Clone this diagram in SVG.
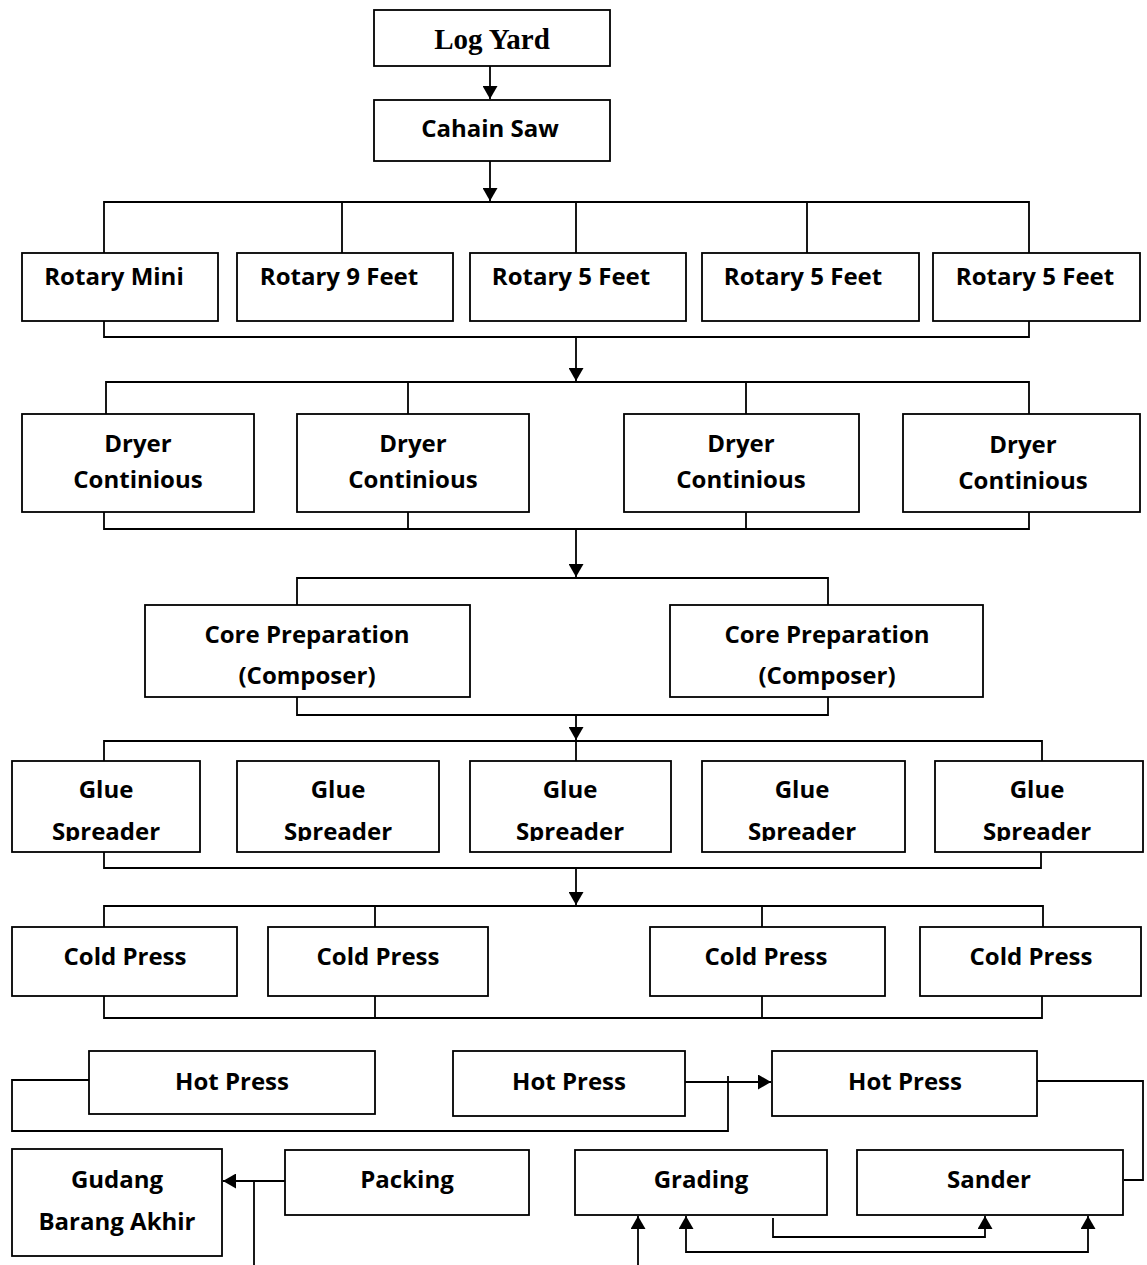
<svg xmlns="http://www.w3.org/2000/svg" width="1147" height="1265" viewBox="0 0 1147 1265">
<style>
.b{fill:#fff;stroke:#000;stroke-width:1.8}
.t{font-family:"Open Sans","Liberation Sans",sans-serif;font-weight:bold;font-size:24px;text-anchor:middle;fill:#000}
.s{font-family:"Liberation Serif",serif;font-weight:bold;font-size:29px;text-anchor:middle;fill:#000}
.c{fill:none;stroke:#000;stroke-width:1.8}
.a{marker-end:url(#ah)}
.a2{marker-start:url(#ah);marker-end:url(#ah)}
</style>
<defs>
<marker id="ah" markerWidth="13" markerHeight="15" refX="13" refY="7.5" orient="auto-start-reverse" markerUnits="userSpaceOnUse">
<path d="M0,0 L13,7.5 L0,15 Z" fill="#000"/>
</marker>
<clipPath id="gc"><rect x="0" y="700" width="1147" height="141"/></clipPath>
</defs>
<g id="connectors">
<path class="c a" d="M490,66 V99"/>
<path class="c a" d="M490,161 V201"/>
<path class="c" d="M104,253 V202 H1029 V253 M342,202 V253 M576,202 V253 M807,202 V253"/>
<path class="c" d="M104,321 V337 H1029 V321"/>
<path class="c a" d="M576,337 V381"/>
<path class="c" d="M106,414 V382 H1029 V414 M408,382 V414 M746,382 V414"/>
<path class="c" d="M104,512 V529 H1029 V512 M408,512 V529 M746,512 V529"/>
<path class="c a" d="M576,529 V577"/>
<path class="c" d="M297,605 V578 H828 V605"/>
<path class="c" d="M297,697 V715 H828 V697"/>
<path class="c a" d="M576,715 V740"/>
<path class="c" d="M104,761 V741 H1042 V761 M576,741 V761"/>
<path class="c" d="M104,852 V868 H1041 V852"/>
<path class="c a" d="M576,868 V905"/>
<path class="c" d="M104,927 V906 H1043 V927 M375,906 V927 M762,906 V927"/>
<path class="c" d="M104,996 V1018 H1042 V996 M375,996 V1018 M762,996 V1018"/>
<path class="c" d="M89,1080 H12 V1131 H728 V1076"/>
<path class="c a" d="M685,1082 H771"/>
<path class="c" d="M1037,1081 H1143 V1180 H1124"/>
<path class="c a" d="M285,1181 H223"/>
<path class="c" d="M254,1181 V1265"/>
<path class="c a" d="M638,1265 V1216"/>
<path class="c a2" d="M686,1216 V1252 H1088 V1216"/>
<path class="c a" d="M773,1218 V1237 H985 V1216"/>
</g>
<g id="n-logyard"><rect class="b" x="374" y="10" width="236" height="56"/><text class="s" x="492" y="49">Log Yard</text></g>
<g id="n-chainsaw"><rect class="b" x="374" y="100" width="236" height="61"/><text class="t" x="490" y="137">Cahain Saw</text></g>
<g id="n-rot1"><rect class="b" x="22" y="253" width="196" height="68"/><text class="t" x="114" y="285">Rotary Mini</text></g>
<g id="n-rot2"><rect class="b" x="237" y="253" width="216" height="68"/><text class="t" x="339" y="285">Rotary 9 Feet</text></g>
<g id="n-rot3"><rect class="b" x="470" y="253" width="216" height="68"/><text class="t" x="571" y="285">Rotary 5 Feet</text></g>
<g id="n-rot4"><rect class="b" x="702" y="253" width="217" height="68"/><text class="t" x="803" y="285">Rotary 5 Feet</text></g>
<g id="n-rot5"><rect class="b" x="933" y="253" width="207" height="68"/><text class="t" x="1035" y="285">Rotary 5 Feet</text></g>
<g id="n-dry1"><rect class="b" x="22" y="414" width="232" height="98"/><text class="t" x="138" y="452">Dryer</text><text class="t" x="138" y="488">Continious</text></g>
<g id="n-dry2"><rect class="b" x="297" y="414" width="232" height="98"/><text class="t" x="413" y="452">Dryer</text><text class="t" x="413" y="488">Continious</text></g>
<g id="n-dry3"><rect class="b" x="624" y="414" width="235" height="98"/><text class="t" x="741" y="452">Dryer</text><text class="t" x="741" y="488">Continious</text></g>
<g id="n-dry4"><rect class="b" x="903" y="414" width="237" height="98"/><text class="t" x="1023" y="453">Dryer</text><text class="t" x="1023" y="489">Continious</text></g>
<g id="n-core1"><rect class="b" x="145" y="605" width="325" height="92"/><text class="t" x="307" y="643">Core Preparation</text><text class="t" x="307" y="684">(Composer)</text></g>
<g id="n-core2"><rect class="b" x="670" y="605" width="313" height="92"/><text class="t" x="827" y="643">Core Preparation</text><text class="t" x="827" y="684">(Composer)</text></g>
<g id="n-glue1"><rect class="b" x="12" y="761" width="188" height="91"/><text class="t" x="106" y="798">Glue</text><text class="t" x="106" y="840" clip-path="url(#gc)">Spreader</text></g>
<g id="n-glue2"><rect class="b" x="237" y="761" width="202" height="91"/><text class="t" x="338" y="798">Glue</text><text class="t" x="338" y="840" clip-path="url(#gc)">Spreader</text></g>
<g id="n-glue3"><rect class="b" x="470" y="761" width="201" height="91"/><text class="t" x="570" y="798">Glue</text><text class="t" x="570" y="840" clip-path="url(#gc)">Spreader</text></g>
<g id="n-glue4"><rect class="b" x="702" y="761" width="203" height="91"/><text class="t" x="802" y="798">Glue</text><text class="t" x="802" y="840" clip-path="url(#gc)">Spreader</text></g>
<g id="n-glue5"><rect class="b" x="935" y="761" width="208" height="91"/><text class="t" x="1037" y="798">Glue</text><text class="t" x="1037" y="840" clip-path="url(#gc)">Spreader</text></g>
<g id="n-cold1"><rect class="b" x="12" y="927" width="225" height="69"/><text class="t" x="125" y="965">Cold Press</text></g>
<g id="n-cold2"><rect class="b" x="268" y="927" width="220" height="69"/><text class="t" x="378" y="965">Cold Press</text></g>
<g id="n-cold3"><rect class="b" x="650" y="927" width="235" height="69"/><text class="t" x="766" y="965">Cold Press</text></g>
<g id="n-cold4"><rect class="b" x="920" y="927" width="221" height="69"/><text class="t" x="1031" y="965">Cold Press</text></g>
<g id="n-hot1"><rect class="b" x="89" y="1051" width="286" height="63"/><text class="t" x="232" y="1090">Hot Press</text></g>
<g id="n-hot2"><rect class="b" x="453" y="1051" width="232" height="65"/><text class="t" x="569" y="1090">Hot Press</text></g>
<g id="n-hot3"><rect class="b" x="772" y="1051" width="265" height="65"/><text class="t" x="905" y="1090">Hot Press</text></g>
<g id="n-gudang"><rect class="b" x="12" y="1149" width="210" height="107"/><text class="t" x="117" y="1188">Gudang</text><text class="t" x="117" y="1230">Barang Akhir</text></g>
<g id="n-packing"><rect class="b" x="285" y="1150" width="244" height="65"/><text class="t" x="407" y="1188">Packing</text></g>
<g id="n-grading"><rect class="b" x="575" y="1150" width="252" height="65"/><text class="t" x="701" y="1188">Grading</text></g>
<g id="n-sander"><rect class="b" x="857" y="1150" width="266" height="65"/><text class="t" x="989" y="1188">Sander</text></g>
</svg>
